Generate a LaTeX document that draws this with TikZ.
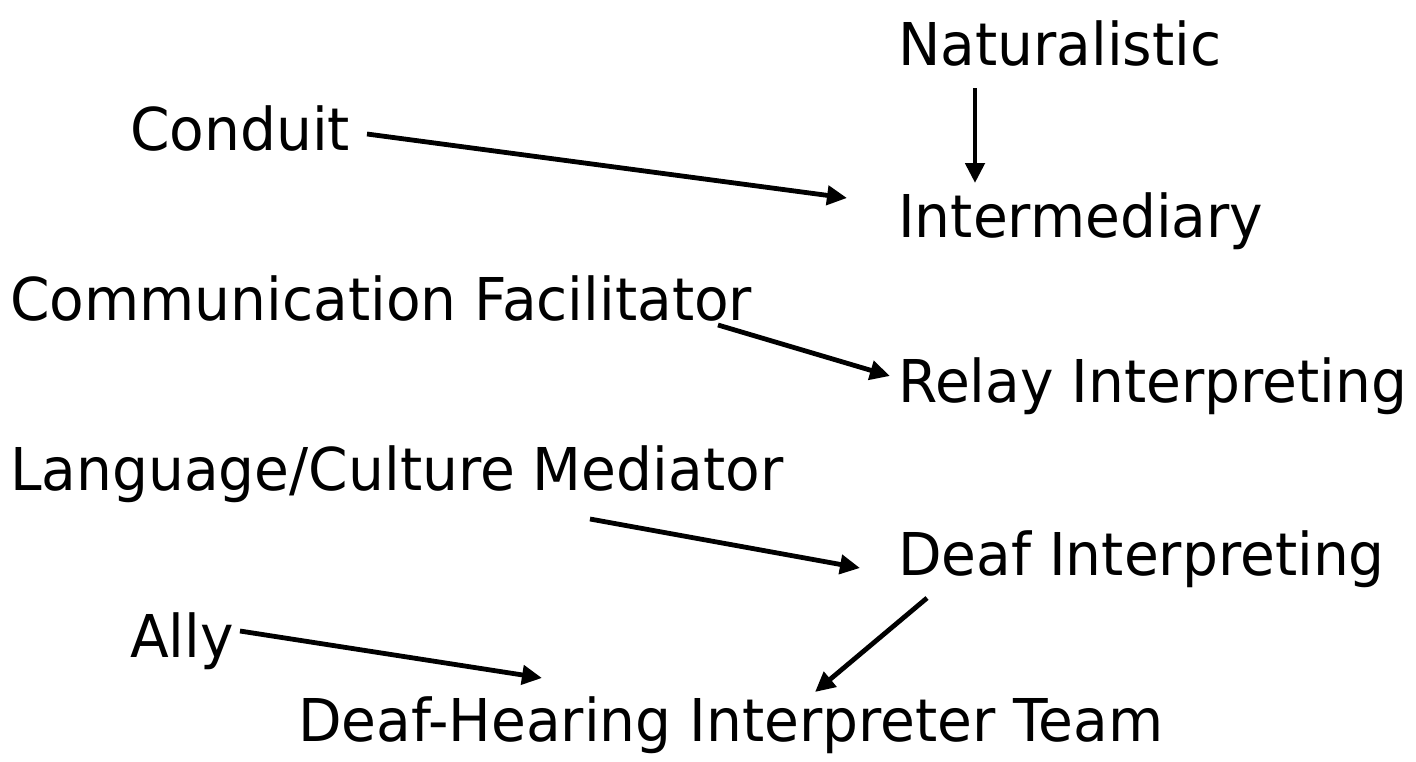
\documentclass[tikz,border=0pt]{standalone}
\usepackage{fontspec}
\setmainfont[FakeStretch=0.96]{DejaVu Sans}
\usetikzlibrary{arrows.meta}

\begin{document}
\begin{tikzpicture}[x=1pt,y=-1pt,
    lbl/.style={anchor=base west,inner sep=0pt,font=\fontsize{59}{66}\selectfont},
    arr/.style={line width=4.8pt,-{Triangle[length=20pt,width=19pt]}}]
            \useasboundingbox (0,0) rectangle (1416,761);
            % roles on the left, settings on the right
            \node[lbl] (nat) at (898,65) {Naturalistic};
            \node[lbl] (cond) at (130,150) {Conduit};
            \node[lbl] (inter) at (898,237) {Intermediary};
            \node[lbl] (comm) at (10,320) {Communication Facilitator};
            \node[lbl] (relay) at (898,402) {Relay Interpreting};
            \node[lbl] (lang) at (10,490) {Language/Culture Mediator};
            \node[lbl] (deafi) at (898,575) {Deaf Interpreting};
            \node[lbl] (ally) at (130,657) {Ally};
            \node[lbl] (team) at (298,741) {Deaf-Hearing Interpreter Team};
            \draw[arr] ([shift={(77,23)}]nat.base west) -- ([shift={(77,-54)}]inter.base west);
            \draw[arr] ([shift={(237,-16)}]cond.base west) -- ([shift={(-51,-39)}]inter.base west);
            \draw[arr] ([shift={(708,5)}]comm.base west) -- ([shift={(-8,-26)}]relay.base west);
            \draw[arr] ([shift={(580,29)}]lang.base west) -- ([shift={(-38,-7)}]deafi.base west);
            \draw[arr] ([shift={(29,23)}]deafi.base west) -- ([shift={(517,-49)}]team.base west);
            \draw[arr] ([shift={(110,-26)}]ally.base west) -- ([shift={(244,-63)}]team.base west);
\end{tikzpicture}
\end{document}
